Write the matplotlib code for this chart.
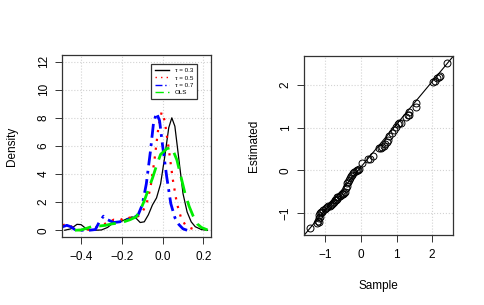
import matplotlib
matplotlib.use("Agg")
import matplotlib.pyplot as plt

# density curves (x, density)
x_q03 = [-0.48, -0.45, -0.42, -0.40, -0.37, -0.33, -0.30, -0.27, -0.24, -0.20, -0.17,
         -0.15, -0.13, -0.11, -0.09, -0.07, -0.05, -0.03, -0.01, 0.01, 0.03, 0.045,
         0.06, 0.08, 0.10, 0.12, 0.14, 0.16, 0.19, 0.22]
d_q03 = [0.0, 0.1, 0.42, 0.4, 0.05, 0.0, 0.02, 0.2, 0.55, 0.65, 0.85,
         0.95, 0.85, 0.55, 0.6, 1.1, 1.8, 2.3, 3.3, 5.2, 7.3, 8.0,
         7.4, 5.0, 2.6, 1.3, 0.6, 0.25, 0.05, 0.0]

x_q05 = [-0.49, -0.47, -0.45, -0.43, -0.40, -0.36, -0.33, -0.30, -0.27, -0.24, -0.21,
         -0.18, -0.15, -0.12, -0.10, -0.08, -0.06, -0.04, -0.02, -0.005, 0.01, 0.03,
         0.05, 0.07, 0.09, 0.11, 0.13, 0.15, 0.17]
d_q05 = [0.35, 0.45, 0.3, 0.05, 0.0, 0.05, 0.2, 0.4, 0.5, 0.75, 0.7,
         0.95, 0.85, 1.0, 1.3, 1.8, 3.0, 5.0, 7.4, 8.4, 7.8, 5.8,
         3.6, 1.9, 0.9, 0.4, 0.2, 0.08, 0.0]

x_q07 = [-0.49, -0.47, -0.45, -0.43, -0.40, -0.36, -0.33, -0.31, -0.29, -0.27, -0.24,
         -0.21, -0.18, -0.15, -0.12, -0.10, -0.08, -0.06, -0.045, -0.03, -0.015, 0.0,
         0.02, 0.04, 0.06, 0.08, 0.10, 0.12]
d_q07 = [0.25, 0.35, 0.25, 0.05, 0.0, 0.0, 0.05, 0.6, 1.0, 0.75, 0.55,
         0.6, 0.75, 0.8, 1.1, 1.8, 3.3, 5.6, 7.6, 8.35, 7.8, 6.0,
         3.8, 1.9, 0.9, 0.4, 0.1, 0.0]

x_ols = [-0.43, -0.40, -0.37, -0.34, -0.31, -0.28, -0.25, -0.22, -0.19, -0.16, -0.13,
         -0.11, -0.09, -0.07, -0.05, -0.03, -0.01, 0.02, 0.045, 0.07, 0.09, 0.11,
         0.13, 0.15, 0.17, 0.19, 0.22]
d_ols = [0.0, 0.02, 0.15, 0.3, 0.3, 0.35, 0.45, 0.5, 0.6, 0.75, 0.95,
         1.4, 2.1, 2.9, 3.7, 4.6, 5.4, 5.8, 5.9, 5.0, 3.8, 2.6,
         1.7, 1.0, 0.45, 0.2, 0.02]

# right panel: sample vs estimated
sample = [-1.44, -1.22, -1.20, -1.19, -1.18, -1.17, -1.16, -1.15, -1.13, -1.10, -1.06,
          -1.02, -0.98, -0.95, -0.92, -0.88, -0.85, -0.82, -0.79, -0.76, -0.73, -0.70,
          -0.68, -0.66, -0.63, -0.60, -0.57, -0.54, -0.50, -0.47, -0.44, -0.42, -0.40,
          -0.38, -0.36, -0.33, -0.30, -0.27, -0.24, -0.21, -0.18, -0.15, -0.12, -0.09,
          -0.06, 0.03, 0.21, 0.26, 0.35, 0.50, 0.55, 0.60, 0.64, 0.68, 0.72, 0.76,
          0.80, 0.86, 0.92, 0.98, 1.03, 1.08, 1.12, 1.27, 1.31, 1.34, 1.36, 1.54,
          1.56, 2.02, 2.08, 2.13, 2.18, 2.22, 2.43]
estimated = [-1.35, -1.22, -1.18, -1.12, -1.05, -1.20, -1.00, -1.08, -0.97, -0.98, -0.93,
             -0.91, -0.88, -0.86, -0.84, -0.82, -0.80, -0.78, -0.76, -0.73, -0.70, -0.68,
             -0.66, -0.63, -0.62, -0.60, -0.58, -0.56, -0.54, -0.52, -0.50, -0.42, -0.36,
             -0.30, -0.26, -0.22, -0.18, -0.14, -0.10, -0.07, -0.04, -0.02, 0.00, 0.02,
             0.03, 0.18, 0.26, 0.28, 0.34, 0.52, 0.53, 0.55, 0.58, 0.62, 0.67, 0.72,
             0.80, 0.88, 0.95, 1.02, 1.08, 1.10, 1.12, 1.24, 1.30, 1.36, 1.30, 1.58,
             1.48, 2.07, 2.10, 2.16, 2.19, 2.20, 2.52]
line_intercept = 0.08
line_slope = 1.0

plt.rcParams['font.family'] = ['Liberation Sans', 'DejaVu Sans']
plt.rcParams['font.size'] = 8.5

fig = plt.figure(figsize=(4.85, 3.05), dpi=100)
ax1 = fig.add_axes([0.128, 0.223, 0.307, 0.597])
ax2 = fig.add_axes([0.627, 0.230, 0.307, 0.586])


def r_style(ax, yticks, ylabels):
    for s in ax.spines.values():
        s.set_color('#333333')
        s.set_linewidth(0.9)
    ax.tick_params(direction='out', length=5, width=0.7, color='#333333',
                   labelsize=8.5)
    ax.tick_params(axis='x', pad=5)
    ax.tick_params(axis='y', pad=4)
    ax.set_yticks(yticks)
    ax.set_yticklabels(ylabels, rotation=90, va='center')
    ax.grid(True, color='#d3d3d3', linestyle=':', linewidth=0.8)
    ax.set_axisbelow(True)


# left: densities
ax1.plot(x_q03, d_q03, color='black', lw=0.9, label='\u03c4 = 0.3')
ax1.plot(x_q05, d_q05, color='red', lw=1.6, linestyle=(0, (1, 3)), label='\u03c4 = 0.5')
ax1.plot(x_q07, d_q07, color='blue', lw=2.0, linestyle=(0, (5, 2, 1, 2)), label='\u03c4 = 0.7')
ax1.plot(x_ols, d_ols, color='#00ee00', lw=2.0, linestyle=(0, (6, 3)), label='OLS')
ax1.set_xlim(-0.493, 0.237)
ax1.set_ylim(-0.48, 12.48)
ax1.set_xticks([-0.4, -0.2, 0.0, 0.2])
ax1.set_xticklabels(['\u22120.4', '\u22120.2', '0.0', '0.2'])
r_style(ax1, [0, 2, 4, 6, 8, 10, 12], ['0', '2', '4', '6', '8', '10', '12'])
ax1.set_ylabel('Density')
ax1.yaxis.set_label_coords(-0.295, 0.5)
leg = ax1.legend(loc='upper right', bbox_to_anchor=(0.904, 0.949), fontsize=4.5,
                 frameon=True, fancybox=False, edgecolor='#333333', framealpha=1,
                 handlelength=2.2, handletextpad=0.9, borderpad=0.6, labelspacing=0.3,
                 borderaxespad=0)
leg.get_frame().set_linewidth(0.9)
for h in leg.get_lines():
    h.set_linewidth(1.0)

# right: estimated vs sample
ax2.plot(sample, estimated, 'o', mfc='none', mec='black', ms=5, mew=0.7)
ax2.axline((0, line_intercept), slope=line_slope, color='black', lw=0.8)
ax2.set_xlim(-1.595, 2.585)
ax2.set_ylim(-1.505, 2.675)
ax2.set_xticks([-1, 0, 1, 2])
ax2.set_xticklabels(['\u22121', '0', '1', '2'])
r_style(ax2, [-1, 0, 1, 2], ['\u22121', '0', '1', '2'])
ax2.set_xlabel('Sample')
ax2.set_ylabel('Estimated')
ax2.xaxis.set_label_coords(0.5, -0.25)
ax2.yaxis.set_label_coords(-0.295, 0.5)

fig.savefig('out.png', dpi=100)
